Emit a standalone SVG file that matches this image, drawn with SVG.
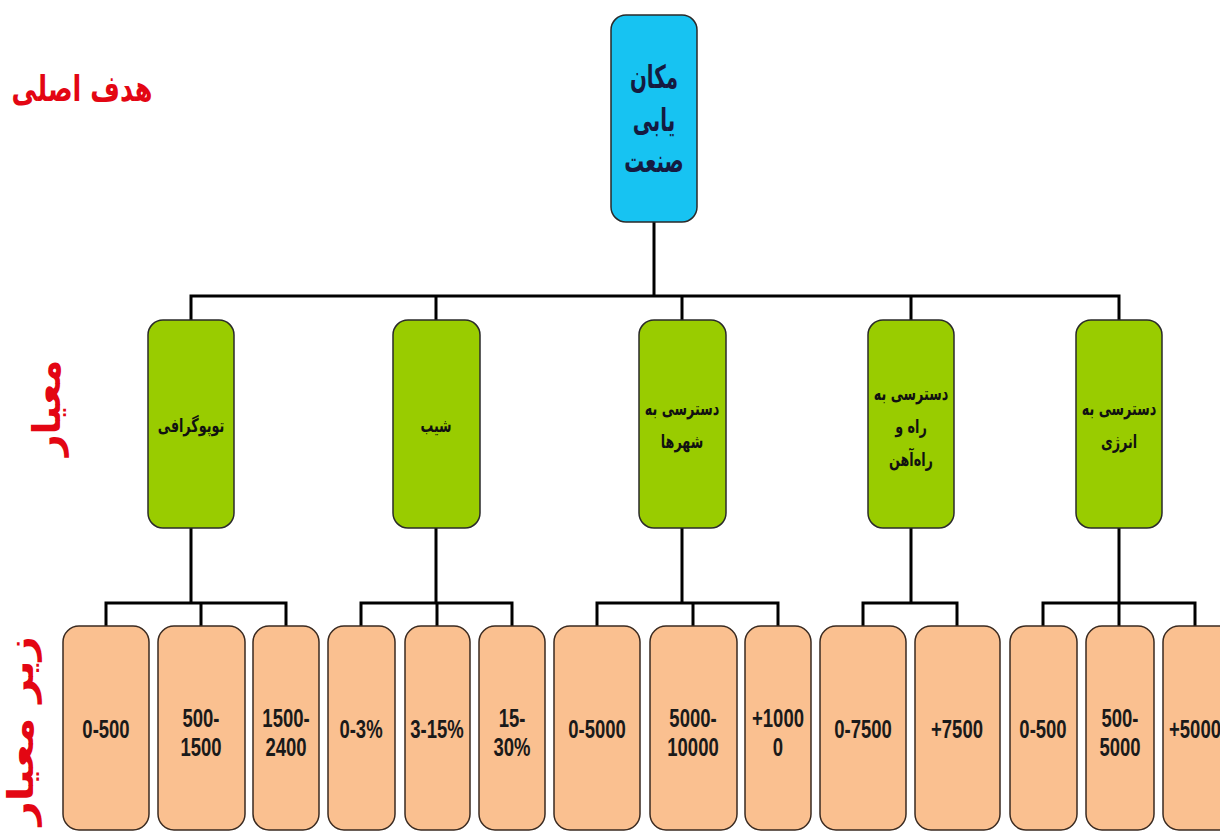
<svg xmlns="http://www.w3.org/2000/svg" width="1220" height="834" viewBox="0 0 1220 834">
  <style>
    .wire { fill: none; stroke: #000; stroke-width: 3; stroke-linecap: square; }
    .goal { fill: #17C3F2; stroke: #2a2a2a; stroke-width: 1.5; }
    .crit { fill: #99CC00; stroke: #2a2a2a; stroke-width: 1.5; }
    .sub { fill: #FAC090; stroke: #3a2a20; stroke-width: 1.5; }
    .fa { font-family: "DejaVu Sans", "Noto Sans", sans-serif; font-weight: bold; text-anchor: middle; }
    .goal-t { font-size: 32px; fill: #151a40; }
    .crit-t { font-size: 19px; fill: #111; }
    .side { fill: #e30613; }
    .num { font-family: "Liberation Sans", Arial, sans-serif; font-weight: bold; font-size: 25px; fill: #1a1a1a; text-anchor: middle; }
  </style>

  <!-- level captions -->
  <g id="captions">
    <text class="fa side" font-size="36" transform="translate(82,101) scale(0.71,1)">هدف اصلی</text>
    <text class="fa side" font-size="38" transform="translate(60,408) rotate(-90)">معیار</text>
    <text class="fa side" font-size="36" transform="translate(33,636) rotate(-90) scale(1.18,1)" style="text-anchor:end">زیر معیار</text>
  </g>

  <!-- connectors -->
  <g id="connectors">
    <path class="wire" d="M654 222 V296 M191 296 H1119 M191 296 V320 M436 296 V320 M682 296 V320 M911 296 V320 M1119 296 V320"/>
    <path class="wire" d="M191 528 V603 M106 603 H286 M106 603 V626 M201 603 V626 M286 603 V626"/>
    <path class="wire" d="M436 528 V603 M361 603 H512 M361 603 V626 M437 603 V626 M512 603 V626"/>
    <path class="wire" d="M682 528 V603 M597 603 H778 M597 603 V626 M693 603 V626 M778 603 V626"/>
    <path class="wire" d="M911 528 V603 M863 603 H957 M863 603 V626 M957 603 V626"/>
    <path class="wire" d="M1119 528 V603 M1043 603 H1195 M1043 603 V626 M1119 603 V626 M1195 603 V626"/>
  </g>

  <!-- goal -->
  <g id="goal">
    <rect class="goal" x="611" y="15" width="86" height="207" rx="15"/>
    <text class="fa goal-t" transform="translate(654,88) scale(0.62,1)">مکان</text>
    <text class="fa goal-t" transform="translate(654,131) scale(0.62,1)">یابی</text>
    <text class="fa goal-t" transform="translate(654,172) scale(0.62,1)">صنعت</text>
  </g>

  <!-- criteria -->
  <g id="crit-topography">
    <rect class="crit" x="148" y="320" width="86" height="208" rx="15"/>
    <text class="fa crit-t" transform="translate(191,432) scale(0.67,1)">توپوگرافی</text>
  </g>
  <g id="crit-slope">
    <rect class="crit" x="393" y="320" width="87" height="208" rx="15"/>
    <text class="fa crit-t" transform="translate(436,432) scale(0.67,1)">شیب</text>
  </g>
  <g id="crit-cities">
    <rect class="crit" x="639" y="320" width="87" height="208" rx="15"/>
    <text class="fa crit-t" transform="translate(682,415) scale(0.67,1)">دسترسی به</text>
    <text class="fa crit-t" transform="translate(682,448) scale(0.67,1)">شهرها</text>
  </g>
  <g id="crit-roads">
    <rect class="crit" x="868" y="320" width="86" height="208" rx="15"/>
    <text class="fa crit-t" transform="translate(911,400) scale(0.67,1)">دسترسی به</text>
    <text class="fa crit-t" transform="translate(911,433) scale(0.67,1)">راه و</text>
    <text class="fa crit-t" transform="translate(911,466) scale(0.67,1)">راه‌آهن</text>
  </g>
  <g id="crit-energy">
    <rect class="crit" x="1076" y="320" width="86" height="208" rx="15"/>
    <text class="fa crit-t" transform="translate(1119,415) scale(0.67,1)">دسترسی به</text>
    <text class="fa crit-t" transform="translate(1119,448) scale(0.67,1)">انرژی</text>
  </g>

  <!-- sub-criteria -->
  <g id="sub-1-1">
    <rect class="sub" x="63" y="626" width="86" height="204" rx="16"/>
    <text class="num" transform="translate(106,738) scale(0.74,1)">0-500</text>
  </g>
  <g id="sub-1-2">
    <rect class="sub" x="158" y="626" width="87" height="204" rx="16"/>
    <text class="num" transform="translate(201,727) scale(0.74,1)">500-</text>
    <text class="num" transform="translate(201,756) scale(0.74,1)">1500</text>
  </g>
  <g id="sub-1-3">
    <rect class="sub" x="253" y="626" width="66" height="204" rx="16"/>
    <text class="num" transform="translate(286,727) scale(0.74,1)">1500-</text>
    <text class="num" transform="translate(286,756) scale(0.74,1)">2400</text>
  </g>

  <g id="sub-2-1">
    <rect class="sub" x="328" y="626" width="67" height="204" rx="16"/>
    <text class="num" transform="translate(361,738) scale(0.74,1)">0-3%</text>
  </g>
  <g id="sub-2-2">
    <rect class="sub" x="405" y="626" width="65" height="204" rx="16"/>
    <text class="num" transform="translate(437,738) scale(0.74,1)">3-15%</text>
  </g>
  <g id="sub-2-3">
    <rect class="sub" x="479" y="626" width="66" height="204" rx="16"/>
    <text class="num" transform="translate(512,727) scale(0.74,1)">15-</text>
    <text class="num" transform="translate(512,756) scale(0.74,1)">30%</text>
  </g>

  <g id="sub-3-1">
    <rect class="sub" x="554" y="626" width="86" height="204" rx="16"/>
    <text class="num" transform="translate(597,738) scale(0.74,1)">0-5000</text>
  </g>
  <g id="sub-3-2">
    <rect class="sub" x="650" y="626" width="87" height="204" rx="16"/>
    <text class="num" transform="translate(693,727) scale(0.74,1)">5000-</text>
    <text class="num" transform="translate(693,756) scale(0.74,1)">10000</text>
  </g>
  <g id="sub-3-3">
    <rect class="sub" x="745" y="626" width="66" height="204" rx="16"/>
    <text class="num" transform="translate(778,727) scale(0.74,1)">+1000</text>
    <text class="num" transform="translate(778,756) scale(0.74,1)">0</text>
  </g>

  <g id="sub-4-1">
    <rect class="sub" x="820" y="626" width="86" height="204" rx="16"/>
    <text class="num" transform="translate(863,738) scale(0.74,1)">0-7500</text>
  </g>
  <g id="sub-4-2">
    <rect class="sub" x="915" y="626" width="85" height="204" rx="16"/>
    <text class="num" transform="translate(957,738) scale(0.74,1)">+7500</text>
  </g>

  <g id="sub-5-1">
    <rect class="sub" x="1010" y="626" width="67" height="204" rx="16"/>
    <text class="num" transform="translate(1043,738) scale(0.74,1)">0-500</text>
  </g>
  <g id="sub-5-2">
    <rect class="sub" x="1086" y="626" width="68" height="204" rx="16"/>
    <text class="num" transform="translate(1120,727) scale(0.74,1)">500-</text>
    <text class="num" transform="translate(1120,756) scale(0.74,1)">5000</text>
  </g>
  <g id="sub-5-3">
    <rect class="sub" x="1163" y="626" width="80" height="204" rx="16"/>
    <text class="num" transform="translate(1195,738) scale(0.74,1)">+5000</text>
  </g>
</svg>
